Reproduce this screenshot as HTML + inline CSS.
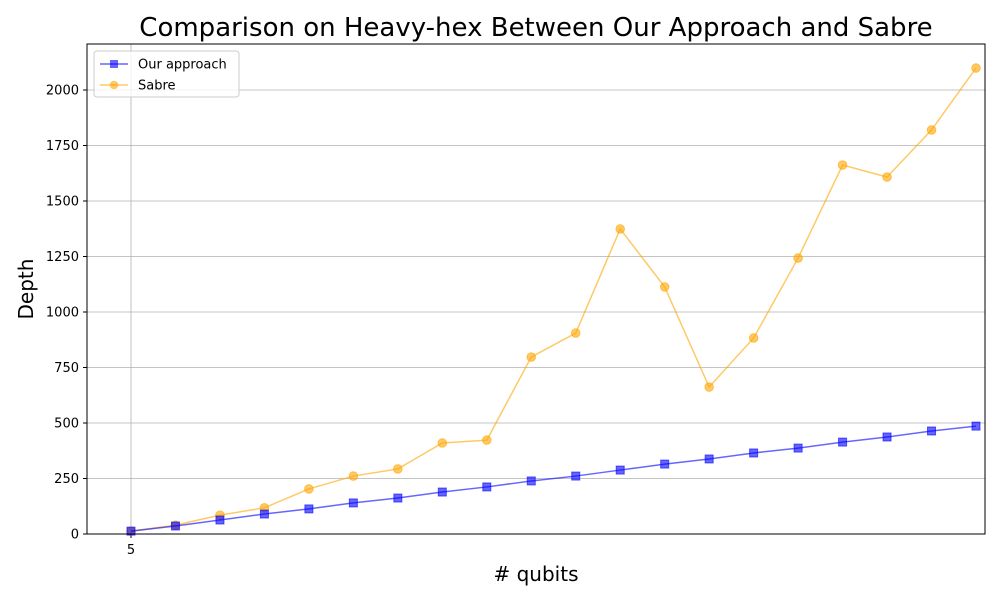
<!DOCTYPE html>
<html><head><meta charset="utf-8"><style>
body{margin:0;background:#fff;font-family:"Liberation Sans",sans-serif}
svg text{font-family:"DejaVu Sans","Liberation Sans",sans-serif}
</style></head><body>
<svg id="c" width="1000" height="600"></svg>
<script>
const xLabels=[5,6,7,8,9,10,11,12,13,14,15,16,17,18,19,20,21,22,23,24];
const ourValues=[13,36,63,90,113,140,162,189,212,239,261,288,315,338,365,387,414,437,464,486];
const sabreValues=[13,40,85,118,203,261,293,410,423,797,905,1374,1113,662,883,1243,1662,1608,1820,2099];
const yTicks=[0,250,500,750,1000,1250,1500,1750,2000];
const xTickLabels=["5"];
const L=87,R=985,T=44,B=534;
const xs=i=>131+i*(976-131)/(xLabels.length-1);
const ys=v=>B-v*(444/2000);
const svg=document.getElementById('c');const NS='http://www.w3.org/2000/svg';
function mk(t,a,txt){const e=document.createElementNS(NS,t);for(const k in a)e.setAttribute(k,a[k]);if(txt!==undefined)e.textContent=txt;svg.appendChild(e);return e;}
let e;
yTicks.forEach(v=>{
e=mk('line',{x1:L,x2:R,y1:ys(v),y2:ys(v),stroke:'#b0b0b0','stroke-width':0.8});


e=mk('line',{x1:L-4,x2:L,y1:ys(v),y2:ys(v),stroke:'#000'});


e=mk('text',{x:L-8,y:ys(v)+4.5,'text-anchor':'end','font-size':13},v);


});
xTickLabels.forEach((lab,i)=>{
e=mk('line',{x1:xs(i),x2:xs(i),y1:T,y2:B,stroke:'#b0b0b0','stroke-width':0.8});


e=mk('line',{x1:xs(i),x2:xs(i),y1:B,y2:B+4,stroke:'#000'});


e=mk('text',{x:xs(i),y:B+20,'text-anchor':'middle','font-size':13},lab);


});
function series(vals,color,shape,name){
e=mk('polyline',{points:vals.map((v,i)=>xs(i)+','+ys(v)).join(' '),fill:'none',stroke:color,'stroke-width':1.5,'stroke-opacity':0.6});


vals.forEach((v,i)=>{
if(shape==='s')e=mk('rect',{x:xs(i)-4,y:ys(v)-4,width:8,height:8,fill:color,'fill-opacity':0.6,stroke:color,'stroke-opacity':0.6});
else e=mk('circle',{cx:xs(i),cy:ys(v),r:4.3,fill:color,'fill-opacity':0.6,stroke:color,'stroke-opacity':0.6});


});
}
series(sabreValues,'orange','o','sabre');
series(ourValues,'blue','s','our-approach');
e=mk('rect',{x:L,y:T,width:R-L,height:B-T,fill:'none',stroke:'#000','stroke-width':1});


e=mk('text',{x:536,y:36,'text-anchor':'middle','font-size':26},'Comparison on Heavy-hex Between Our Approach and Sabre');


e=mk('text',{x:536,y:581,'text-anchor':'middle','font-size':20},'# qubits');


e=mk('text',{x:33,y:289,'text-anchor':'middle','font-size':20,transform:'rotate(-90 33 289)'},'Depth');


e=mk('rect',{x:94,y:51,width:145,height:46,fill:'#fff','fill-opacity':0.8,stroke:'#ccc',rx:3});


const leg=[['Our approach','blue','s',64],['Sabre','orange','o',85]];
leg.forEach(([t,c,s,y])=>{
e=mk('line',{x1:100,x2:128,y1:y,y2:y,stroke:c,'stroke-width':1.5,'stroke-opacity':0.6});


if(s==='s')e=mk('rect',{x:110,y:y-4,width:8,height:8,fill:c,'fill-opacity':0.6});
else e=mk('circle',{cx:114,cy:y,r:4.3,fill:c,'fill-opacity':0.6});


e=mk('text',{x:138,y:y+4.5,'font-size':13},t);


});
</script>
</body></html>
